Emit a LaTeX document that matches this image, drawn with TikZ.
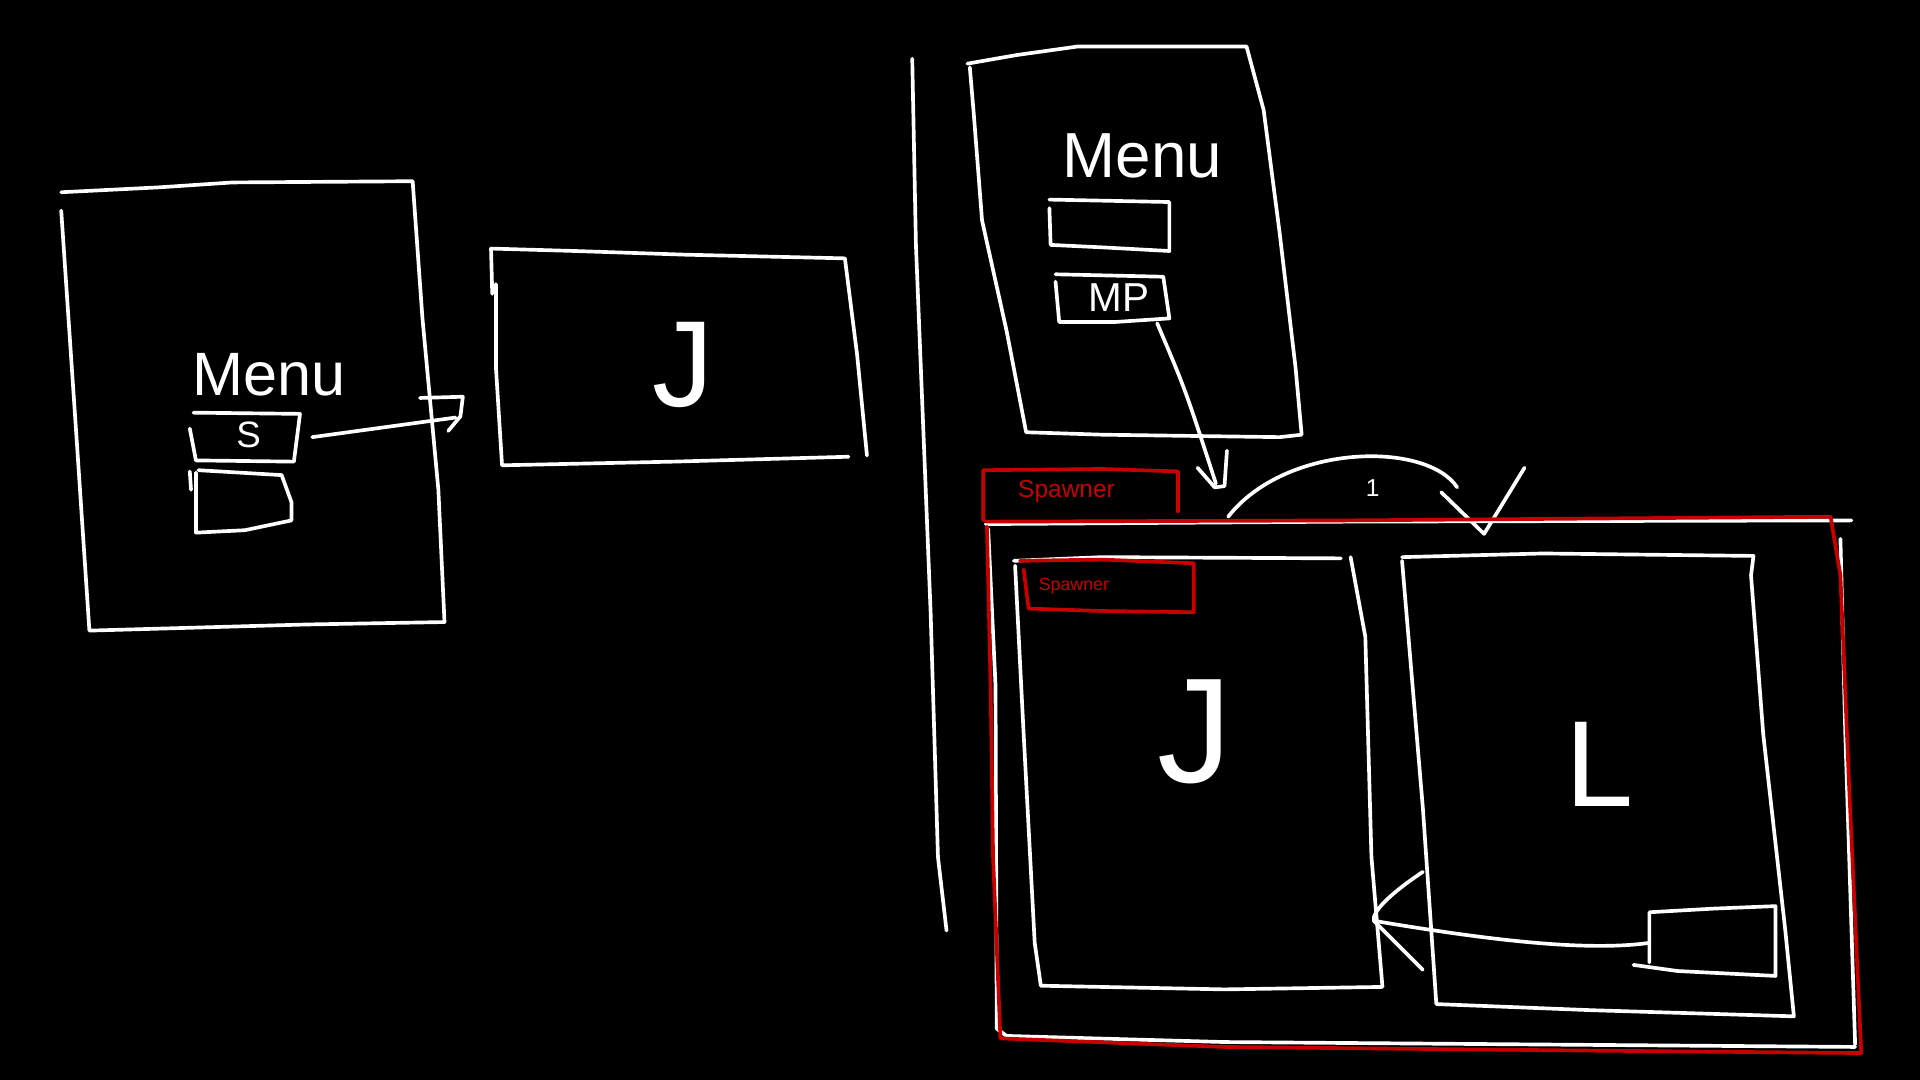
\documentclass[tikz,border=0pt]{standalone}
\usepackage{fontspec}
\setmainfont{Liberation Sans}
\definecolor{spawnred}{RGB}{200,0,0}
\tikzset{
  chalk/.style={draw=white, line width=3pt, line cap=round, line join=round},
  redpen/.style={draw=spawnred, line width=3pt, line cap=round, line join=round},
  scrawl/.style={text=white, inner sep=0pt},
  redtext/.style={text=spawnred, inner sep=0pt},
}

\begin{document}
\begin{tikzpicture}[x=1pt, y=-1pt]
  \fill[black] (0,0) rectangle (1568,882);

  \draw[chalk] (50,157) -- (130,153) -- (190,149) -- (337,148) -- (345,260) -- (358,400) -- (363,508) -- (250,510) -- (73,515) -- (62,350) -- (50,172);
  \node[scrawl, font=\fontsize{50}{50}\selectfont] (menuA) at (220,306) {Menu};
  \draw[chalk] (158,337) -- (245,338) -- (240,377) -- (160,376) -- (155,350);
  \node[scrawl, font=\fontsize{30}{30}\selectfont] (sbtn) at (203,355) {S};
  \draw[chalk] (162,384) -- (230,388) -- (238,410) -- (238,425) -- (200,433) -- (160,435) -- (160,386);
  \draw[chalk] (155,385) -- (156,400);
  \coordinate (sout) at (255,357);
  \coordinate (jin) at (372,341);
  \draw[chalk] (sout) -- (jin);
  \draw[chalk] (343,325) -- (378,324) -- (376,340) -- (366,352);

  \draw[chalk] (402,240) -- (401,203) -- (470,205) -- (560,208) -- (690,211) -- (700,290) -- (708,372);
  \draw[chalk] (693,373) -- (550,377) -- (410,380) -- (405,300) -- (405,232);
  \node[scrawl, font=\fontsize{100}{100}\selectfont] (jA) at (558,298) {J};

  \draw[chalk] (745,48) -- (748,200) -- (760,500) -- (766,700) -- (773,760);
  \draw[chalk] (790,52) -- (830,45) -- (880,38) -- (1018,38) -- (1032,90) -- (1045,190) -- (1058,300) -- (1063,355) -- (1045,357) -- (900,355) -- (838,353) -- (822,270) -- (802,180) -- (795,90) -- (792,55);
  \node[scrawl, font=\fontsize{52}{52}\selectfont] (menuB) at (933,127) {Menu};
  \draw[chalk] (857,163) -- (955,165) -- (955,205) -- (900,202) -- (858,200) -- (857,170);
  \draw[chalk] (862,224) -- (950,226) -- (955,260) -- (910,263) -- (865,263) -- (862,230);
  \node[scrawl, font=\fontsize{33}{33}\selectfont] (mpbtn) at (914,243) {MP};
  \coordinate (mpout) at (945,264);
  \coordinate (spin) at (993,395);
  \draw[chalk] (mpout) .. controls (968,318) .. (spin);
  \draw[chalk] (978,382) -- (992,398) -- (1000,397) -- (1002,368);

  \draw[redpen] (803,425) -- (803,384) -- (900,383) -- (962,385) -- (962,418);
  \node[redtext, font=\fontsize{20}{20}\selectfont] (spawnA) at (871,401) {Spawner};

  \coordinate (arcfrom) at (1003,422);
  \coordinate (arcto) at (1190,398);
  \draw[chalk] (arcfrom) .. controls (1050,362) and (1165,360) .. (arcto);
  \node[scrawl, font=\fontsize{20}{20}\selectfont] (one) at (1121,399) {1};
  \draw[chalk] (1177,402) -- (1212,436) -- (1245,382);

  \draw[chalk] (805,428) -- (1100,426) -- (1512,425);
  \draw[chalk] (807,432) -- (813,560) -- (814,840) -- (822,846) -- (1000,851) -- (1515,855);
  \draw[chalk] (1503,440) -- (1507,600) -- (1515,853);
  \draw[redpen] (805,426) -- (1100,425) -- (1495,422) -- (1503,470) -- (1510,640) -- (1520,860) -- (1300,858) -- (1000,855) -- (817,848) -- (811,700) -- (809,560) -- (806,430);

  \draw[chalk] (828,458) -- (900,455) -- (1095,456);
  \draw[chalk] (829,462) -- (836,600) -- (845,770) -- (850,805) -- (1000,808) -- (1128,806);
  \draw[chalk] (1103,455) -- (1115,520) -- (1120,700) -- (1129,806);
  \draw[redpen] (833,458) -- (900,457) -- (975,460) -- (975,500) -- (900,499) -- (840,497) -- (836,465);
  \node[redtext, font=\fontsize{14.5}{14.5}\selectfont] (spawnB) at (877,479) {Spawner};
  \node[scrawl, font=\fontsize{122}{122}\selectfont] (jB) at (976,598) {J};

  \draw[chalk] (1145,455) -- (1260,452) -- (1432,454) -- (1430,470) -- (1440,600) -- (1458,760) -- (1465,830) -- (1300,825) -- (1173,820) -- (1162,660) -- (1145,458);
  \node[scrawl, font=\fontsize{100}{100}\selectfont] (lB) at (1306,624) {L};
  \draw[chalk] (1347,786) -- (1347,745) -- (1400,742) -- (1450,740) -- (1450,797) -- (1370,793) -- (1334,788);
  \coordinate (boxout) at (1347,770);
  \coordinate (jback) at (1122,752);
  \draw[chalk] (boxout) .. controls (1290,778) and (1200,765) .. (jback);
  \draw[chalk] (1162,712) .. controls (1135,730) and (1120,745) .. (1122,752) -- (1162,792);
\end{tikzpicture}
\end{document}
